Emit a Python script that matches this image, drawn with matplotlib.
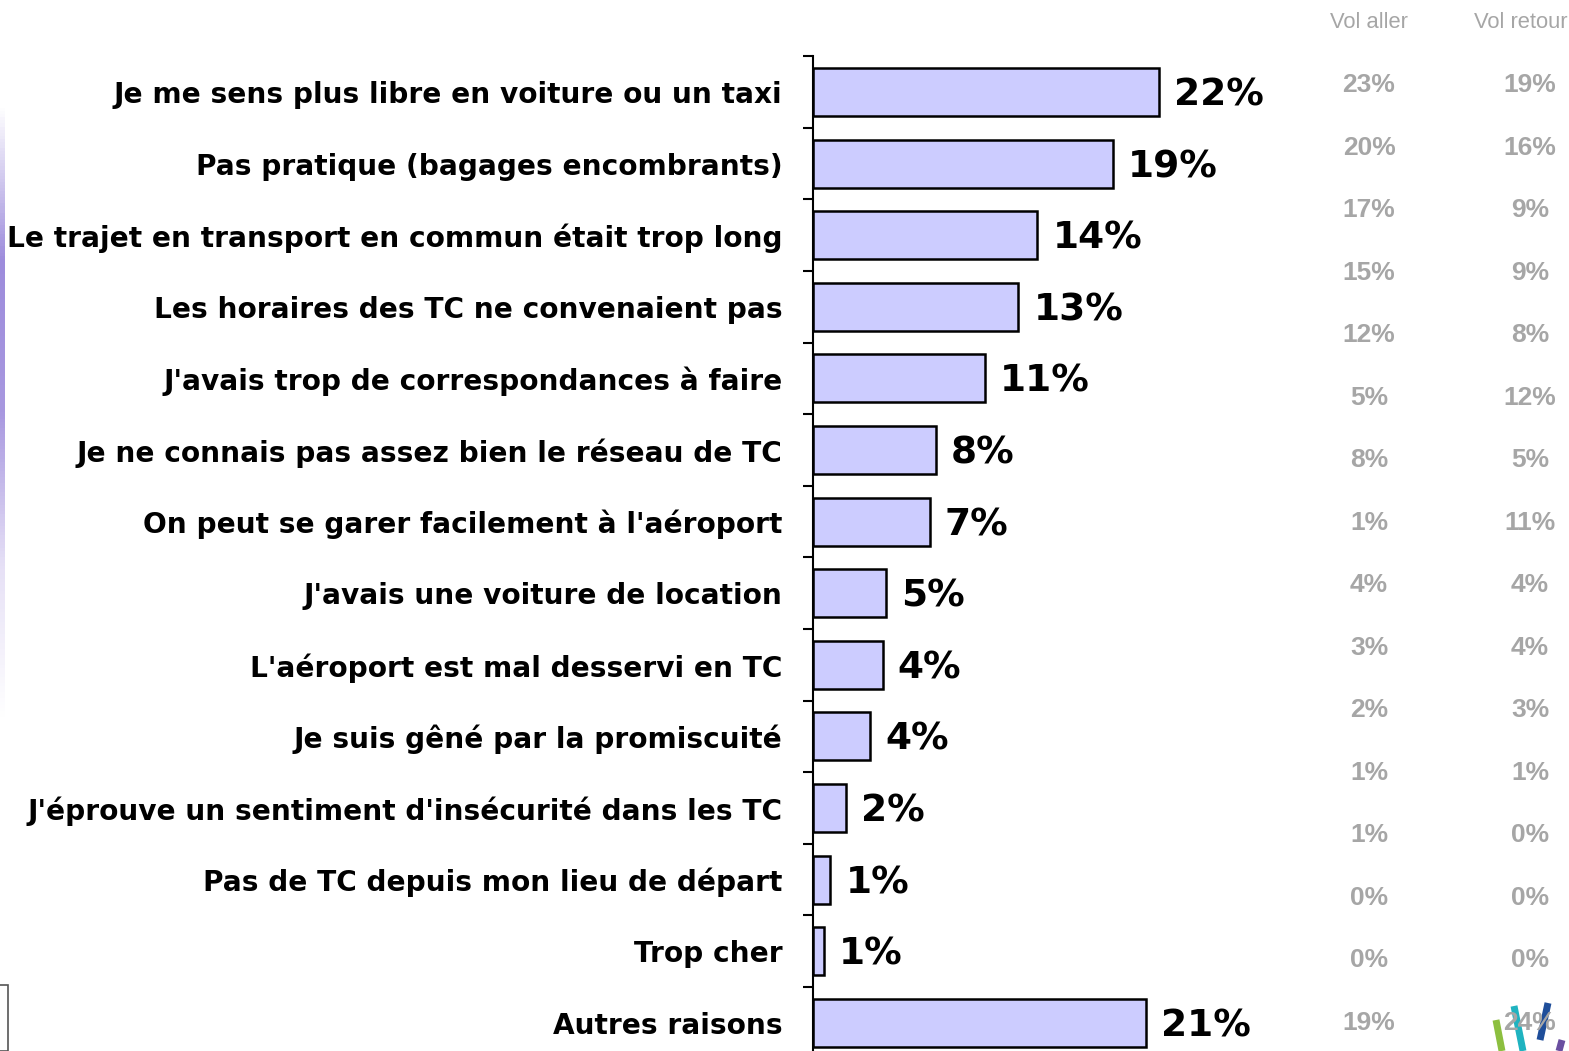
import numpy as np
import matplotlib.pyplot as plt
import matplotlib.colors as mcolors
from matplotlib.lines import Line2D
from matplotlib.patches import Rectangle

# Raisons (barres)
raisons = [
    "Je me sens plus libre en voiture ou un taxi",
    "Pas pratique (bagages encombrants)",
    "Le trajet en transport en commun était trop long",
    "Les horaires des TC ne convenaient pas",
    "J'avais trop de correspondances à faire",
    "Je ne connais pas assez bien le réseau de TC",
    "On peut se garer facilement à l'aéroport",
    "J'avais une voiture de location",
    "L'aéroport est mal desservi en TC",
    "Je suis gêné par la promiscuité",
    "J'éprouve un sentiment d'insécurité dans les TC",
    "Pas de TC depuis mon lieu de départ",
    "Trop cher",
    "Autres raisons",
]
total = [21.9, 19.0, 14.2, 13.0, 10.9, 7.8, 7.4, 4.6, 4.4, 3.6, 2.1, 1.1, 0.7, 21.1]

# Colonnes de droite
entetes = ["Vol aller", "Vol retour"]
vol_aller = [23, 20, 17, 15, 12, 5, 8, 1, 4, 3, 2, 1, 1, 0, 0, 19]
vol_retour = [19, 16, 9, 9, 8, 12, 5, 11, 4, 4, 3, 1, 0, 0, 0, 24]

W, H = 1569, 1051
fig = plt.figure(figsize=(W / 100, H / 100), dpi=100)

# axe principal (le bas sort légèrement de la figure)
top_px, step_px = 56.2, 71.6
n = len(raisons)
ax_top = 1 - top_px / H
ax_bot = 1 - (top_px + n * step_px) / H
ax = fig.add_axes([813 / W, ax_bot, 474 / W, ax_top - ax_bot])

y = np.arange(n)
ax.barh(y, total, height=0.67, color="#ccccff", edgecolor="black", linewidth=1.8)
ax.set_xlim(0, 30)
ax.set_ylim(n - 0.5, -0.5)

for yi, v in zip(y, total):
    ax.text(v + 0.95, yi + 0.05, f"{v:.0f}%", va="center", ha="left",
            fontsize=27, fontweight="bold", family="DejaVu Sans")

for s in ["top", "right", "bottom"]:
    ax.spines[s].set_visible(False)
ax.spines["left"].set_linewidth(1.5)
ax.set_xticks([])
ax.set_yticks(np.arange(-0.5, n, 1.0))
ax.set_yticklabels([])
ax.tick_params(axis="y", which="major", length=7, width=1.5, direction="out")
ax.set_yticks(y, minor=True)
ax.set_yticklabels(raisons, minor=True, fontsize=20.2, fontweight="bold",
                   family="DejaVu Sans")
ax.tick_params(axis="y", which="minor", length=0, pad=22)

# colonnes Vol aller / Vol retour
gris = "#a6a6a6"
cols_x = [1369 / W, 1530 / W]
fig.text(cols_x[0], 1 - 23 / H, entetes[0], ha="center", va="center", color=gris,
         fontsize=15.8, family="Liberation Sans")
fig.text(1567 / W, 1 - 23 / H, entetes[1], ha="right", va="center", color=gris,
         fontsize=15.8, family="Liberation Sans")
for k, (a, r) in enumerate(zip(vol_aller, vol_retour)):
    yy = 1 - (85 + 62.53 * k) / H
    fig.text(cols_x[0], yy, f"{a}%", ha="center", va="center", color=gris,
             fontsize=19, fontweight="bold", family="Liberation Sans")
    fig.text(cols_x[1], yy, f"{r}%", ha="center", va="center", color=gris,
             fontsize=19, fontweight="bold", family="Liberation Sans", zorder=5)

# liseré violet à gauche
cmap = mcolors.LinearSegmentedColormap.from_list(
    "lis", ["#ffffff", "#9d8cdc", "#a898e0", "#e6e0f6", "#ffffff"])
lax = fig.add_axes([0, 1 - 720 / H, 5 / W, 615 / H])
lax.imshow(np.linspace(0, 1, 200).reshape(-1, 1), aspect="auto", cmap=cmap)
lax.axis("off")

# petit cadre en bas à gauche
fig.add_artist(Rectangle((-10 / W, 0), 18 / W, 66 / H, transform=fig.transFigure,
                         fill=False, edgecolor="#555555", linewidth=1.2))

# logo (traits colorés)
for (x0, y0, x1, y1, c) in [(1496, 1020, 1502, 1051, "#8cbf3f"),
                            (1514, 1006, 1523, 1051, "#1fb3c0"),
                            (1548, 1003, 1540, 1040, "#1f4e9a"),
                            (1562, 1040, 1559, 1051, "#6a4fa0")]:
    fig.add_artist(Line2D([x0 / W, x1 / W], [1 - y0 / H, 1 - y1 / H],
                          transform=fig.transFigure, color=c, linewidth=5,
                          solid_capstyle="butt", zorder=1))

fig.savefig("out.png", dpi=100)
